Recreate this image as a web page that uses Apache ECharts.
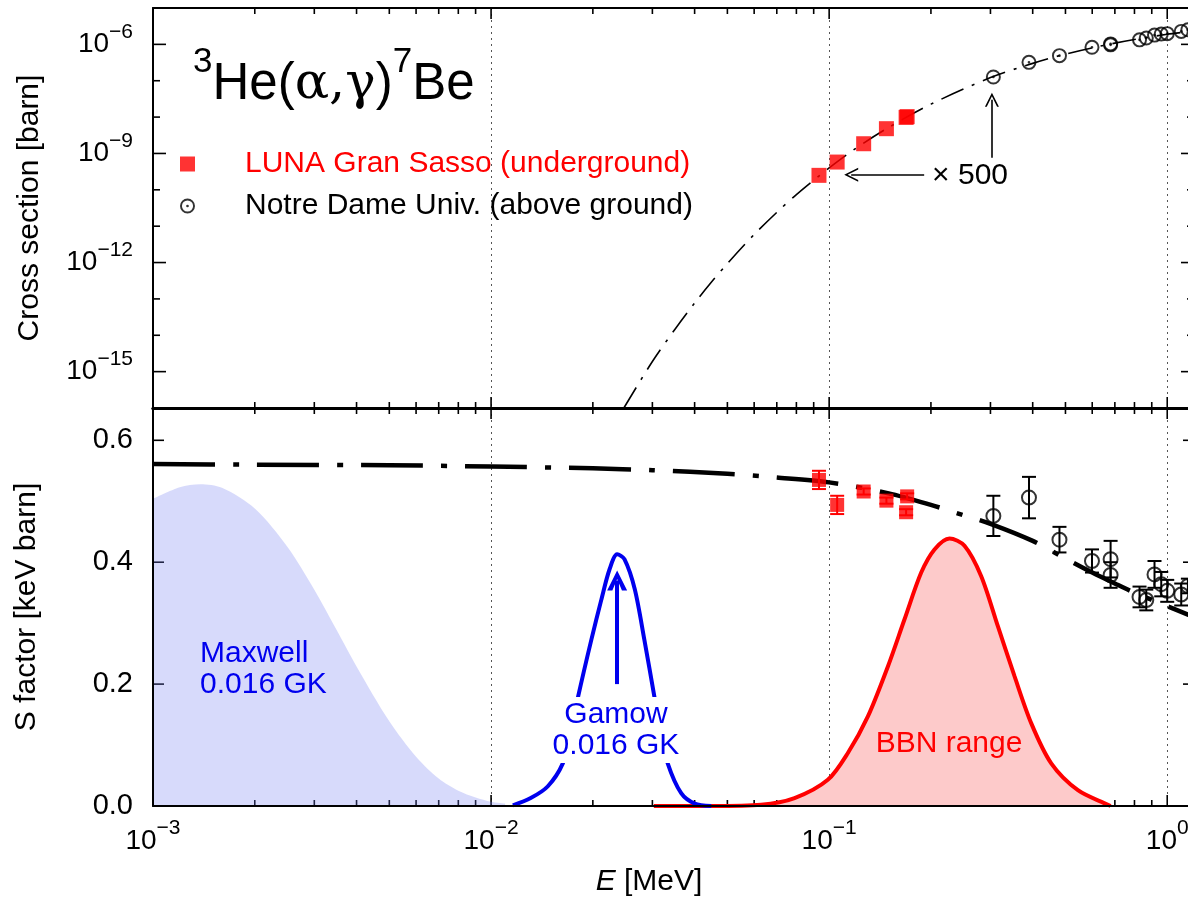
<!DOCTYPE html>
<html><head><meta charset="utf-8">
<script src="https://cdn.jsdelivr.net/npm/echarts@6/dist/echarts.min.js"></script>
<style>html,body{margin:0;padding:0;overflow:hidden;background:#fff}#c{width:1200px;height:901px}</style>
</head><body><div id="c"></div><script>
// ---------------- data ----------------
// LUNA Gran Sasso (underground)
const lunaE      = [0.0933, 0.1056, 0.1265, 0.1477, 0.1689, 0.1701];          // MeV
const lunaSigma  = [2.5e-10, 5.8e-10, 1.85e-9, 4.8e-9, 0.98e-8, 1.03e-8];      // barn
const lunaS      = [0.535, 0.494, 0.516, 0.501, 0.482, 0.508];                 // keV barn
const lunaSErr   = [0.015, 0.015, 0.005, 0.005, 0.005, 0.005];
// Notre Dame Univ. (above ground)
const ndE        = [0.306, 0.390, 0.480, 0.599, 0.680, 0.680, 0.828, 0.867, 0.917, 0.960, 1.000, 1.100, 1.151];
const ndSigma    = [1.27e-7, 3.2e-7, 4.9e-7, 8.3e-7, 1.03e-6, 0.97e-6, 1.33e-6, 1.50e-6, 1.80e-6, 1.93e-6, 1.97e-6, 2.27e-6, 2.52e-6];
const ndS        = [0.476, 0.506, 0.437, 0.402, 0.405, 0.379, 0.343, 0.338, 0.380, 0.364, 0.353, 0.347, 0.361];
const ndSErr     = [0.033, 0.034, 0.021, 0.019, 0.030, 0.021, 0.017, 0.017, 0.022, 0.020, 0.018, 0.018, 0.012];
// cross-section curve (top panel)
const sigCurveE  = [0.0247, 0.03, 0.035, 0.04, 0.045, 0.05, 0.06, 0.07, 0.08, 0.1, 0.12, 0.15, 0.2, 0.3, 0.4, 0.5, 0.7, 1.0, 1.2];
const sigCurve   = [1.0e-16, 1.9e-15, 1.47e-14, 7.7e-14, 3.0e-13, 9.4e-13, 5.9e-12, 2.4e-11, 7.4e-11, 4.0e-10, 1.39e-9, 5.2e-9, 2.27e-8, 1.22e-7, 3.0e-7, 5.4e-7, 1.08e-6, 1.9e-6, 2.3e-6];
// S-factor curve (bottom panel)
const sCurveE    = [0.001, 0.002, 0.005, 0.01, 0.02, 0.03, 0.05, 0.07, 0.1, 0.15, 0.2, 0.25, 0.3, 0.4, 0.5, 0.6, 0.7, 0.8, 1.0, 1.2];
const sCurve     = [0.561, 0.560, 0.559, 0.557, 0.554, 0.551, 0.545, 0.539, 0.531, 0.513, 0.494, 0.477, 0.463, 0.435, 0.406, 0.383, 0.365, 0.350, 0.328, 0.310];
// Maxwell distribution at 0.016 GK (arbitrary scale)
const maxwellE   = [0.001, 0.0012, 0.00138, 0.0016, 0.002, 0.0025, 0.003, 0.0035, 0.004, 0.005, 0.006, 0.007, 0.008, 0.009, 0.01, 0.011];
const maxwellS   = [0.504, 0.523, 0.528, 0.522, 0.488, 0.425, 0.355, 0.288, 0.229, 0.139, 0.081, 0.045, 0.025, 0.014, 0.007, 0.004];
// Gamow peak at 0.016 GK (arbitrary scale)
const gamowE     = [0.0116, 0.0131, 0.0147, 0.0163, 0.0172, 0.0181, 0.0198, 0.0212, 0.0224, 0.0236, 0.0248, 0.0266, 0.0284, 0.0304, 0.0318, 0.0333, 0.0365, 0.0400, 0.0448];
const gamowS     = [0.001, 0.013, 0.032, 0.070, 0.120, 0.180, 0.273, 0.339, 0.388, 0.413, 0.405, 0.356, 0.273, 0.180, 0.120, 0.070, 0.021, 0.004, 0.0];
// BBN energy range (arbitrary scale)
const bbnE       = [0.0303, 0.045, 0.0629, 0.0790, 0.0991, 0.1136, 0.1302, 0.1492, 0.1670, 0.1872, 0.2049, 0.2270, 0.2514, 0.2817, 0.3155, 0.3534, 0.3959, 0.4538, 0.5442, 0.6678, 0.68];
const bbnS       = [0.0, 0.0, 0.002, 0.013, 0.043, 0.087, 0.147, 0.229, 0.306, 0.383, 0.421, 0.439, 0.427, 0.377, 0.295, 0.213, 0.136, 0.070, 0.026, 0.002, 0.0];
// axis ticks
const xMajorTicks = [0.001, 0.01, 0.1, 1];
const xMinorTicks = [0.002,0.003,0.004,0.005,0.006,0.007,0.008,0.009, 0.02,0.03,0.04,0.05,0.06,0.07,0.08,0.09, 0.2,0.3,0.4,0.5,0.6,0.7,0.8,0.9];
const sigmaMajorTicks = [1e-15, 1e-12, 1e-9, 1e-6];
const sigmaMinorTicks = [1e-16,1e-14,1e-13,1e-11,1e-10,1e-8,1e-7,1e-5];
const sTicks = [0, 0.2, 0.4, 0.6];
// annotation arrows [from, to]
const arrow500H = [[0.191, 2.6e-10], [0.1162, 2.6e-10]];
const arrow500V = [[0.303, 7.6e-10], [0.303, 3.0e-8]];
const arrowGamow = [[0.0236, 0.20], [0.0236, 0.37]];

const LUNA = 'LUNA Gran Sasso (underground)';
const ND = 'Notre Dame Univ. (above ground)';
const FONT = '"Liberation Sans", Arial, Helvetica, sans-serif';
const RING_DOT = 'path://M10,0A10,10,0,1,1,10,20A10,10,0,1,1,10,0ZM10,2.6A7.4,7.4,0,1,0,10,17.4A7.4,7.4,0,1,0,10,2.6ZM10,8.2A1.8,1.8,0,1,1,10,11.8A1.8,1.8,0,1,1,10,8.2Z';
const CHEVRON = 'path://M5,0L10,14L8.7,14L5,3.4L1.3,14L0,14Z';
const CHEVRON_BOLD = 'path://M5,0L10,14L7.4,14L5,6L2.6,14L0,14Z';

const zip = (a, b) => a.map((v, i) => [v, b[i]]);

function powLabel(v, every) {
  const l = Math.log10(v), k = Math.round(l);
  if (Math.abs(l - k) > 1e-6) return '';
  if (every && k % every !== 0) return '';
  return '{b|10}{e|' + (k < 0 ? '\u2212' + (-k) : String(k)) + '}';
}
const powRich = {
  b: {fontSize: 28, fontFamily: FONT, color: '#000', lineHeight: 46},
  e: {fontSize: 21, fontFamily: FONT, color: '#000', lineHeight: 20, verticalAlign: 'top'}
};

function xTicks(gi, vals, len, yRef) {
  return {
    type: 'custom', xAxisIndex: gi * 2, yAxisIndex: gi * 2, silent: true, clip: false, z: 1,
    data: vals.map(v => [v, yRef]),
    renderItem(params, api) {
      const cs = params.coordSys;
      const x = api.coord([api.value(0), api.value(1)])[0];
      const st = {stroke: '#000', lineWidth: 1.6};
      const yb = cs.y + cs.height, yt = cs.y;
      return {type: 'group', children: [
        {type: 'line', shape: {x1: x, y1: yb, x2: x, y2: yb - len}, style: st},
        {type: 'line', shape: {x1: x, y1: yt, x2: x, y2: yt + len}, style: st}
      ]};
    }
  };
}
function yTicks(gi, vals, len, xRef) {
  return {
    type: 'custom', xAxisIndex: gi * 2, yAxisIndex: gi * 2, silent: true, clip: false, z: 1,
    data: vals.map(v => [xRef, v]),
    renderItem(params, api) {
      const cs = params.coordSys;
      const y = api.coord([api.value(0), api.value(1)])[1];
      const st = {stroke: '#000', lineWidth: 1.6};
      const xl = cs.x, xr = cs.x + cs.width;
      return {type: 'group', children: [
        {type: 'line', shape: {x1: xl, y1: y, x2: xl + len, y2: y}, style: st},
        {type: 'line', shape: {x1: xr, y1: y, x2: xr - len, y2: y}, style: st}
      ]};
    }
  };
}
function errorBars(name, E, S, err, color, cap) {
  return {
    type: 'custom', name: name + ' err', xAxisIndex: 2, yAxisIndex: 2, silent: true, z: 6,
    data: E.map((e, i) => [e, S[i] - err[i], S[i] + err[i]]),
    encode: {x: 0, y: [1, 2]},
    renderItem(params, api) {
      const lo = api.coord([api.value(0), api.value(1)]);
      const hi = api.coord([api.value(0), api.value(2)]);
      const st = {stroke: color, lineWidth: 2};
      return {type: 'group', children: [
        {type: 'line', shape: {x1: lo[0], y1: lo[1], x2: hi[0], y2: hi[1]}, style: st},
        {type: 'line', shape: {x1: lo[0] - cap, y1: lo[1], x2: lo[0] + cap, y2: lo[1]}, style: st},
        {type: 'line', shape: {x1: hi[0] - cap, y1: hi[1], x2: hi[0] + cap, y2: hi[1]}, style: st}
      ]};
    }
  };
}
function arrowLine(a, color, width, sym, size) {
  return {
    silent: true, animation: false, symbol: ['none', sym], symbolSize: size,
    label: {show: false}, emphasis: {disabled: true},
    lineStyle: {color: color, width: width, type: 'solid'},
    data: [[{coord: a[0]}, {coord: a[1]}]]
  };
}

const axisLine = {onZero: false, lineStyle: {color: '#000', width: 2}};
const midLine = {onZero: false, lineStyle: {color: '#000', width: 3}};
const dotted = {show: true, lineStyle: {type: [2, 4], color: '#555', width: 1}};
const xBase = {type: 'log', logBase: 10, min: 0.001, max: 1.2, axisLine: axisLine, axisTick: {show: false}, axisLabel: {show: false}, splitLine: {show: false}};

const chart = echarts.init(document.getElementById('c'), null, {renderer: 'canvas'});
chart.setOption({
  animation: false,
  backgroundColor: '#fff',
  grid: [
    {left: 153, top: 8, width: 1041, height: 400},
    {left: 153, top: 408, width: 1041, height: 398}
  ],
  xAxis: [
    Object.assign({}, xBase, {gridIndex: 0, position: 'bottom', z: 10, axisLine: midLine}),
    Object.assign({}, xBase, {gridIndex: 0, position: 'top', splitLine: dotted}),
    Object.assign({}, xBase, {gridIndex: 1, position: 'bottom', z: 10,
      axisLabel: {show: true, margin: 12, formatter: v => powLabel(v), rich: powRich}}),
    Object.assign({}, xBase, {gridIndex: 1, position: 'top', splitLine: dotted, axisLine: midLine})
  ],
  yAxis: [
    {gridIndex: 0, type: 'log', logBase: 1000, min: 1e-16, max: 1e-5, position: 'left', z: 10,
      axisLine: axisLine, axisTick: {show: false}, splitLine: {show: false},
      axisLabel: {margin: 20, formatter: v => powLabel(v, 3), rich: powRich},
      name: 'Cross section [barn]', nameLocation: 'middle', nameGap: 108, nameRotate: 90,
      nameTextStyle: {fontSize: 30, fontFamily: FONT, color: '#000'}},
    {gridIndex: 0, type: 'log', logBase: 1000, min: 1e-16, max: 1e-5, position: 'right',
      axisLine: axisLine, axisTick: {show: false}, splitLine: {show: false}, axisLabel: {show: false}},
    {gridIndex: 1, type: 'value', min: 0, max: 0.653, interval: 0.2, position: 'left', z: 10,
      axisLine: axisLine, axisTick: {show: false}, splitLine: {show: false},
      axisLabel: {margin: 20, fontSize: 29, fontFamily: FONT, color: '#000',
        formatter: v => (Math.abs(v / 0.2 - Math.round(v / 0.2)) < 1e-6 ? v.toFixed(1) : '')},
      name: 'S factor [keV barn]', nameLocation: 'middle', nameGap: 111, nameRotate: 90,
      nameTextStyle: {fontSize: 30, fontFamily: FONT, color: '#000'}},
    {gridIndex: 1, type: 'value', min: 0, max: 0.653, interval: 0.2, position: 'right',
      axisLine: axisLine, axisTick: {show: false}, splitLine: {show: false}, axisLabel: {show: false}}
  ],
  legend: {
    left: 175, top: 144, orient: 'vertical', itemGap: 12, itemWidth: 15, itemHeight: 15,
    selectedMode: false,
    textStyle: {fontSize: 30, fontFamily: FONT, color: '#000', padding: [0, 0, 0, 45]},
    data: [
      {name: LUNA, icon: 'rect', textStyle: {color: '#ff0000'}},
      {name: ND, icon: RING_DOT, textStyle: {color: '#000'}}
    ]
  },
  graphic: [
    {type: 'text', left: 193, top: 45, z: 20, style: {
      text: '{s|3}{m|He(}{g|\u03b1,\u03b3}{m|)}{s|7}{m|Be}',
      rich: {
        m: {fontSize: 51, fontFamily: FONT, color: '#000', lineHeight: 80},
        g: {fontSize: 51, fontFamily: '"DejaVu Serif", "Liberation Serif", serif', color: '#000', lineHeight: 80},
        s: {fontSize: 35, fontFamily: FONT, color: '#000', lineHeight: 36, verticalAlign: 'top'}
      }}},
    {type: 'text', x: 1008, y: 176, z: 20, style: {text: '\u00d7 500', fontSize: 30, fontFamily: FONT, fill: '#000', align: 'right', verticalAlign: 'middle'}},
    {type: 'text', x: 200, y: 669, z: 20, style: {text: 'Maxwell\n0.016 GK', fontSize: 30, lineHeight: 31, fontFamily: FONT, fill: '#0000ee', align: 'left', verticalAlign: 'middle'}},
    {type: 'text', x: 616, y: 730, z: 20, style: {text: 'Gamow\n0.016 GK', fontSize: 30, lineHeight: 31, fontFamily: FONT, fill: '#0000ee', align: 'center', verticalAlign: 'middle', backgroundColor: '#fff', padding: [2, 2, 2, 2]}},
    {type: 'text', x: 949, y: 744, z: 20, style: {text: 'BBN range', fontSize: 30, fontFamily: FONT, fill: '#ff0000', align: 'center', verticalAlign: 'middle'}},
    {type: 'text', x: 649, y: 882, z: 20, style: {
      text: '{i|E} [MeV]', align: 'center', verticalAlign: 'middle',
      rich: {i: {fontSize: 30, fontFamily: FONT, fontStyle: 'italic', fill: '#000', color: '#000'}},
      fontSize: 30, fontFamily: FONT, fill: '#000'}}
  ],
  series: [
    // ---- ticks ----
    xTicks(0, xMajorTicks, 11, 1e-10), xTicks(0, xMinorTicks, 6, 1e-10),
    yTicks(0, sigmaMajorTicks, 13, 0.01), yTicks(0, sigmaMinorTicks, 7, 0.01),
    xTicks(1, xMajorTicks, 11, 0.3), xTicks(1, xMinorTicks, 6, 0.3),
    yTicks(1, sTicks, 11, 0.01),
    // ---- top panel ----
    {type: 'line', name: 'sigma curve', xAxisIndex: 0, yAxisIndex: 0, data: zip(sigCurveE, sigCurve),
      smooth: 0.3, showSymbol: false, symbol: 'none', z: 3,
      lineStyle: {color: '#000', width: 1.6, type: [24, 9, 3, 9]}},
    {type: 'scatter', name: LUNA, xAxisIndex: 0, yAxisIndex: 0, data: zip(lunaE, lunaSigma),
      symbol: 'rect', symbolSize: 15, itemStyle: {color: '#ff0000'}, z: 5,
      markLine: arrowLine(arrow500H, '#000', 1.6, CHEVRON, 14)},
    {type: 'scatter', name: ND, xAxisIndex: 0, yAxisIndex: 0, data: zip(ndE, ndSigma),
      symbol: RING_DOT, symbolSize: 15, itemStyle: {color: '#000'}, z: 5,
      markLine: arrowLine(arrow500V, '#000', 1.6, CHEVRON, 14)},
    // ---- bottom panel ----
    {type: 'line', name: 'Maxwell', xAxisIndex: 2, yAxisIndex: 2, data: zip(maxwellE, maxwellS),
      smooth: 0.3, symbol: 'none', z: 2, lineStyle: {width: 0, opacity: 0},
      areaStyle: {color: 'rgba(118,128,240,0.29)', opacity: 1}},
    {type: 'line', name: 'BBN', xAxisIndex: 2, yAxisIndex: 2, data: zip(bbnE, bbnS),
      smooth: 0.3, symbol: 'none', z: 3, lineStyle: {color: '#ff0000', width: 4},
      areaStyle: {color: '#fdcaca', opacity: 1}},
    {type: 'line', name: 'Gamow', xAxisIndex: 2, yAxisIndex: 2, data: zip(gamowE, gamowS),
      smooth: 0.3, symbol: 'none', z: 4, lineStyle: {color: '#0000ee', width: 4},
      markLine: arrowLine(arrowGamow, '#0000ee', 4, CHEVRON_BOLD, 20)},
    {type: 'line', name: 'S curve', xAxisIndex: 2, yAxisIndex: 2, data: zip(sCurveE, sCurve),
      smooth: 0.3, symbol: 'none', z: 5, lineStyle: {color: '#000', width: 4.5, type: [62, 18, 6, 18]}},
    errorBars(LUNA, lunaE, lunaS, lunaSErr, '#ff0000', 7),
    errorBars(ND, ndE, ndS, ndSErr, '#000', 7),
    {type: 'scatter', name: LUNA, xAxisIndex: 2, yAxisIndex: 2, data: zip(lunaE, lunaS),
      symbol: 'rect', symbolSize: 14, itemStyle: {color: '#ff0000'}, z: 7},
    {type: 'scatter', name: ND, xAxisIndex: 2, yAxisIndex: 2, data: zip(ndE, ndS),
      symbol: 'circle', symbolSize: 14, z: 7,
      itemStyle: {color: 'rgba(0,0,0,0)', borderColor: '#000', borderWidth: 2}}
  ]
});
</script></body></html>
